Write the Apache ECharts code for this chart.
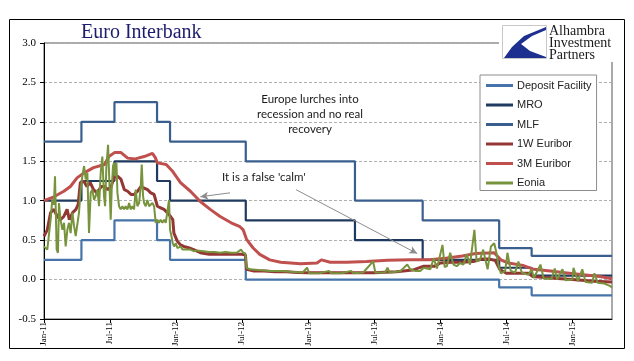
<!DOCTYPE html>
<html><head><meta charset="utf-8">
<script src="https://cdn.jsdelivr.net/npm/echarts@6/dist/echarts.min.js"></script>
<style>html,body{margin:0;padding:0;background:#fff}#c{width:634px;height:361px}</style>
</head><body><div id="c"></div>
<script>
// x = months since 1 Jan 2011
const xTicks = [0, 6, 12, 18, 24, 30, 36, 42, 48];
const xTickLabels = ['Jan-11','Jul-11','Jan-12','Jul-12','Jan-13','Jul-13','Jan-14','Jul-14','Jan-15'];
const xMax = 51.6;
const yMin = -0.5, yMax = 3.0, yStep = 0.5;

const seriesNames = ['Deposit Facility', 'MRO', 'MLF', '1W Euribor', '3M Euribor', 'Eonia'];

// ECB policy rates (value holds until next change)
const depositFacility = [[0,0.25],[3.4,0.5],[6.4,0.75],[10.27,0.5],[11.45,0.25],[18.33,0],[41.35,-0.1],[44.3,-0.2],[51.6,-0.2]];
const mro = [[0,1.0],[3.4,1.25],[6.4,1.5],[10.27,1.25],[11.45,1.0],[18.33,0.75],[28.25,0.5],[34.4,0.25],[41.35,0.15],[44.3,0.05],[51.6,0.05]];
const mlf = [[0,1.75],[3.4,2.0],[6.4,2.25],[10.27,2.0],[11.45,1.75],[18.33,1.5],[28.25,1.0],[34.4,0.75],[41.35,0.4],[44.3,0.3],[51.6,0.3]];

const euribor1w = [[0,0.55],[0.3,0.63],[0.6,0.85],[0.9,0.89],[1.2,0.80],[1.5,0.76],[1.8,0.80],[2.1,0.89],[2.3,0.76],[2.6,0.85],[2.9,0.89],[3.1,0.95],[3.3,1.23],[3.6,1.25],[3.9,1.18],[4.2,1.23],[4.5,1.14],[4.8,1.10],[5.2,1.18],[5.5,1.18],[5.8,1.14],[6.1,1.18],[6.4,1.31],[6.7,1.31],[7.0,1.27],[7.3,1.14],[7.6,1.12],[7.9,1.08],[8.2,1.08],[8.5,1.12],[8.8,1.18],[9.1,1.16],[9.4,1.14],[9.7,1.10],[10.0,1.08],[10.3,0.93],[10.6,0.91],[10.9,0.89],[11.2,0.85],[11.5,0.80],[11.7,0.76],[11.8,0.59],[12.1,0.49],[12.4,0.44],[12.7,0.42],[13.2,0.40],[13.6,0.38],[14.2,0.34],[15,0.32],[16,0.32],[17,0.32],[18,0.32],[18.3,0.31],[18.4,0.13],[19,0.11],[20,0.11],[21,0.10],[22,0.10],[23,0.09],[24,0.085],[26,0.085],[28,0.085],[30,0.085],[32,0.10],[33.5,0.12],[34.5,0.17],[35.5,0.17],[36,0.21],[37,0.22],[38,0.22],[39,0.23],[39.8,0.26],[40.5,0.26],[41,0.24],[41.4,0.13],[42,0.08],[43,0.08],[44,0.08],[44.4,0.04],[46,0.02],[48,0.0],[50,-0.02],[51.6,-0.03]];

const euribor3m = [[0,1.0],[0.9,1.05],[1.8,1.12],[2.4,1.18],[3.0,1.29],[3.6,1.35],[4.5,1.42],[5.5,1.46],[5.9,1.56],[6.4,1.61],[7.0,1.61],[7.6,1.54],[8.3,1.53],[9.1,1.56],[9.85,1.60],[10.1,1.55],[10.3,1.48],[11.1,1.46],[11.7,1.37],[12.4,1.23],[13.3,1.12],[14.2,0.99],[15.1,0.89],[16,0.80],[17,0.72],[17.8,0.67],[18.1,0.63],[18.4,0.51],[19,0.40],[19.6,0.32],[20.5,0.25],[21.5,0.22],[23.3,0.20],[24.8,0.21],[25.2,0.25],[26,0.22],[27.5,0.22],[29.3,0.23],[31.2,0.245],[33.3,0.25],[35,0.25],[36.5,0.27],[38,0.30],[39.2,0.33],[40.9,0.34],[41.5,0.25],[42.2,0.21],[43.5,0.18],[44.5,0.13],[46,0.11],[47.5,0.085],[49,0.06],[50.5,0.04],[51.6,0.01]];

const eonia = [[0,0.42],[0.15,0.40],[0.3,0.38],[0.45,0.36],[0.6,0.76],[0.75,1.01],[0.9,0.95],[1.0,1.31],[1.15,0.38],[1.27,0.34],[1.36,0.97],[1.5,0.76],[1.67,0.63],[1.82,0.72],[1.97,0.42],[2.12,0.63],[2.27,0.72],[2.42,0.59],[2.58,0.85],[2.73,0.68],[2.88,0.55],[3.03,0.55],[3.18,0.85],[3.33,1.14],[3.48,1.31],[3.64,1.44],[3.79,1.27],[3.94,1.35],[4.09,0.59],[4.24,1.10],[4.39,1.14],[4.55,1.01],[4.7,1.06],[4.85,1.14],[5.0,0.93],[5.15,1.35],[5.3,1.56],[5.45,1.06],[5.55,0.93],[5.67,1.44],[5.82,1.71],[5.94,1.23],[6.06,0.76],[6.15,1.14],[6.27,1.44],[6.36,1.48],[6.45,1.31],[6.58,1.48],[6.67,1.10],[6.82,0.93],[6.97,0.89],[7.12,0.93],[7.27,0.89],[7.42,0.93],[7.58,0.89],[7.73,0.97],[7.88,0.89],[8.03,0.93],[8.18,0.89],[8.33,1.14],[8.48,0.93],[8.64,0.97],[8.79,1.18],[8.88,1.46],[9.0,1.06],[9.09,0.97],[9.24,0.93],[9.39,1.01],[9.55,0.93],[9.7,0.93],[9.85,0.97],[10.0,0.93],[10.15,0.72],[10.3,0.76],[10.45,0.72],[10.6,0.76],[10.76,0.72],[10.91,0.76],[11.06,0.72],[11.21,0.72],[11.36,1.01],[11.45,0.63],[11.58,0.55],[11.7,0.46],[11.82,0.42],[11.97,0.46],[12.12,0.40],[12.27,0.38],[12.42,0.42],[12.58,0.38],[12.9,0.38],[13.3,0.38],[13.6,0.36],[13.9,0.37],[14.5,0.36],[15,0.35],[15.5,0.35],[16,0.34],[16.5,0.35],[17,0.34],[17.5,0.34],[17.9,0.38],[18.1,0.34],[18.3,0.33],[18.4,0.15],[18.7,0.13],[19.5,0.12],[20.5,0.11],[21.5,0.11],[22.4,0.10],[23.5,0.09],[23.9,0.15],[24.1,0.08],[25,0.08],[25.9,0.11],[26.1,0.08],[27,0.08],[27.9,0.11],[28.1,0.08],[29,0.09],[29.9,0.23],[30.1,0.09],[31,0.09],[31.2,0.15],[31.4,0.09],[32,0.10],[32.4,0.11],[33,0.19],[33.27,0.13],[33.7,0.11],[34.18,0.11],[34.5,0.15],[35.1,0.13],[35.4,0.27],[35.7,0.14],[36.2,0.44],[36.4,0.16],[36.6,0.17],[36.9,0.34],[37.2,0.19],[37.5,0.17],[37.8,0.21],[38.1,0.19],[38.4,0.32],[38.7,0.19],[39.1,0.63],[39.3,0.23],[39.6,0.25],[39.9,0.38],[40.1,0.25],[40.3,0.13],[40.6,0.42],[40.9,0.46],[41.1,0.34],[41.3,0.17],[41.5,0.08],[41.9,0.11],[42.1,0.34],[42.4,0.11],[42.8,0.09],[43.1,0.23],[43.4,0.09],[44.0,0.06],[44.3,0.13],[44.5,0.02],[45.1,0.19],[45.4,0.01],[46.1,0.01],[46.4,0.14],[46.6,0.0],[47.1,0.13],[47.4,-0.01],[48.0,0.0],[48.1,0.15],[48.5,-0.02],[48.9,0.13],[49.2,-0.03],[49.8,-0.04],[50.0,0.08],[50.3,-0.04],[50.9,-0.05],[51.4,-0.08],[51.6,-0.1]];

const colors = ['#4674aa', '#1f3a5f', '#3a5f8e', '#943634', '#c0504d', '#77933c'];

const chart = echarts.init(document.getElementById('c'), null, {renderer: 'canvas'});
const serif = '"Liberation Serif", "Times New Roman", serif';
const sans = 'Lato, "Liberation Sans", sans-serif';

function lineSeries(i, data, width, step) {
  return {
    name: seriesNames[i], type: 'line', data: data, step: step || false,
    showSymbol: false, symbol: 'none', smooth: false,
    lineStyle: {color: colors[i], width: width}, itemStyle: {color: colors[i]},
    animation: false
  };
}

const s3m = lineSeries(4, euribor3m, 3);
s3m.markLine = {
  silent: true, animation: false,
  symbol: ['none', 'arrow'], symbolSize: [6, 8],
  label: {show: false},
  lineStyle: {color: '#8c8c8c', width: 1, type: 'solid'},
  data: [
    [{coord: [16.9, 1.10]}, {coord: [14.2, 1.05]}],
    [{coord: [22.9, 1.14]}, {coord: [33.9, 0.33]}]
  ]
};

chart.setOption({
  animation: false,
  backgroundColor: '#fff',
  title: {
    text: 'Euro Interbank', left: 76, top: 18,
    textStyle: {fontFamily: serif, fontSize: 20, fontWeight: 'normal', color: '#1c1c6c'}
  },
  grid: {left: 44, right: 22, top: 43, bottom: 42, show: true, borderColor: '#555', borderWidth: 1},
  xAxis: {
    type: 'value', min: 0, max: xMax, interval: 6,
    axisLine: {show: true, onZero: false, lineStyle: {color: '#000', width: 1}},
    axisTick: {show: true, length: 4, inside: false, customValues: xTicks, lineStyle: {color: '#000'}},
    axisLabel: {
      rotate: 90, margin: 3, fontFamily: serif, fontSize: 9, color: '#000',
      customValues: xTicks,
      formatter: function (v) { const i = xTicks.indexOf(v); return i >= 0 ? xTickLabels[i] : ''; }
    },
    splitLine: {show: false}
  },
  yAxis: {
    type: 'value', min: yMin, max: yMax, interval: yStep,
    axisLine: {show: true, onZero: false, lineStyle: {color: '#000', width: 1}},
    axisTick: {show: true, length: 4, lineStyle: {color: '#000'}},
    axisLabel: {margin: 8, fontFamily: serif, fontSize: 11, color: '#000', formatter: v => v.toFixed(1)},
    splitLine: {show: true, lineStyle: {color: '#b0b0b0', width: 1, type: [3, 2]}}
  },
  legend: {
    orient: 'vertical', left: 480, top: 75,
    data: seriesNames,
    icon: 'rect', itemWidth: 27, itemHeight: 3, itemGap: 6.5,
    padding: [4, 5, 1, 6],
    backgroundColor: '#fff', borderColor: '#8c8c8c', borderWidth: 1,
    textStyle: {fontFamily: '"Liberation Sans", Arial, sans-serif', fontSize: 11, color: '#222', lineHeight: 13, padding: [0, 0, 0, -1]},
    selectedMode: false
  },
  series: [
    lineSeries(0, depositFacility, 2.2, 'end'),
    lineSeries(1, mro, 2.2, 'end'),
    lineSeries(2, mlf, 2.2, 'end'),
    lineSeries(3, euribor1w, 3),
    s3m,
    lineSeries(5, eonia, 2)
  ],
  graphic: [
    {type: 'rect', silent: true, z: 100, shape: {x: 9.5, y: 19.5, width: 615, height: 329}, style: {fill: 'none', stroke: '#000', lineWidth: 1}},
    {type: 'rect', silent: true, z: 90, shape: {x: 499, y: 21, width: 124, height: 41}, style: {fill: '#fff'}},
    {type: 'rect', silent: true, z: 91, shape: {x: 502.5, y: 25.5, width: 44, height: 33}, style: {fill: '#fff', stroke: '#c8c8c8', lineWidth: 1}},
    {type: 'polygon', silent: true, z: 92, shape: {points: [[546,27],[546,30],[532,36],[521,44],[530,51],[546,57],[546,58],[504,58],[512,47],[524,36]]}, style: {fill: '#1d2f8f'}},
    {type: 'text', silent: true, z: 93, style: {text: 'Alhambra\nInvestment\nPartners', x: 549, y: 25, fontFamily: serif, fontSize: 14, lineHeight: 12, fill: '#1a1a1a'}},
    {type: 'text', silent: true, z: 80, style: {text: 'Europe lurches into\nrecession and no real\nrecovery', x: 310, y: 114, textAlign: 'center', textVerticalAlign: 'middle', fontFamily: sans, fontSize: 11.5, lineHeight: 15, fill: '#1a1a1a'}},
    {type: 'text', silent: true, z: 80, style: {text: "It is a false 'calm'", x: 222, y: 177, textVerticalAlign: 'middle', fontFamily: sans, fontSize: 11.5, fill: '#1a1a1a'}}
  ]
});
</script>
</body></html>
